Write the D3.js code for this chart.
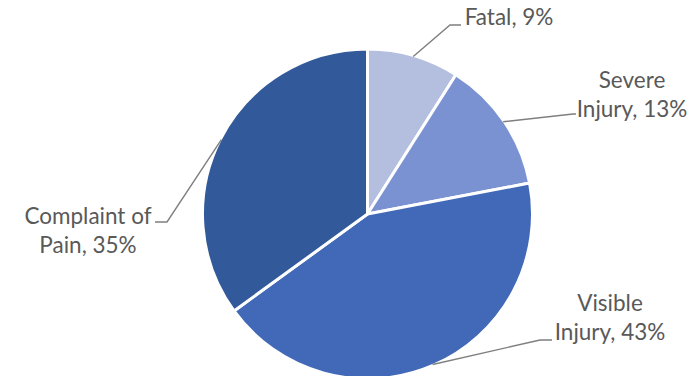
<!DOCTYPE html>
<html>
<head>
<meta charset="utf-8">
<script src="https://cdn.jsdelivr.net/npm/d3@7"></script>
<style>
  html, body { margin: 0; padding: 0; background: #fff; }
  svg { display: block; }
</style>
</head>
<body>
<svg id="chart" width="692" height="376"></svg>
<script>
// Injury severity shares (percent)
const categories = ["Fatal", "Severe Injury", "Visible Injury", "Complaint of Pain"];
const values = [9, 13, 43, 35];
const colors = ["#b4bfe0", "#7a92d1", "#4169b8", "#325a9b"];

// Label text lines and where each label block sits
const labelLines = [["Fatal, 9%"], ["Severe", "Injury, 13%"], ["Visible", "Injury, 43%"], ["Complaint of", "Pain, 35%"]];
const labelAnchor = [[509, 25], [632, 88], [610, 311], [88, 224]];
// Leader elbow and end points
const leaderElbow = [[450, 25], [573, 114], [540, 340], [167, 222]];
const leaderEnd = [[461, 25], [576, 114], [552, 340], [155, 222]];

const svg = d3.select("#chart");
const cx = 367.5, cy = 214, r = 165;
const g = svg.append("g").attr("transform", `translate(${cx},${cy})`);

const pie = d3.pie().sort(null).value(d => d)(values);
const arc = d3.arc().innerRadius(0).outerRadius(r);

g.selectAll("path.slice")
  .data(pie)
  .join("path")
  .attr("class", "slice")
  .attr("d", arc)
  .attr("fill", (d, i) => colors[i])
  .attr("stroke", "#fff")
  .attr("stroke-width", 3)
  .attr("stroke-linejoin", "round");

// Leader lines from slice edge at mid-angle
pie.forEach((d, i) => {
  const mid = (d.startAngle + d.endAngle) / 2;
  const sx = cx + (r - 1) * Math.sin(mid);
  const sy = cy - (r - 1) * Math.cos(mid);
  svg.append("polyline")
    .attr("points", [[sx, sy], leaderElbow[i], leaderEnd[i]].map(p => p.join(",")).join(" "))
    .attr("fill", "none")
    .attr("stroke", "#7f7f7f")
    .attr("stroke-width", 1.4);
});

// Labels
labelLines.forEach((lines, i) => {
  const t = svg.append("text")
    .attr("x", labelAnchor[i][0])
    .attr("y", labelAnchor[i][1])
    .attr("text-anchor", "middle")
    .attr("font-family", "Lato, 'Liberation Sans', sans-serif")
    .attr("font-size", 22.5)
    .attr("fill", "#595959");
  lines.forEach((s, j) => {
    t.append("tspan")
      .attr("x", labelAnchor[i][0])
      .attr("dy", j === 0 ? 0 : 28.5)
      .text(s);
  });
});
</script>
</body>
</html>
